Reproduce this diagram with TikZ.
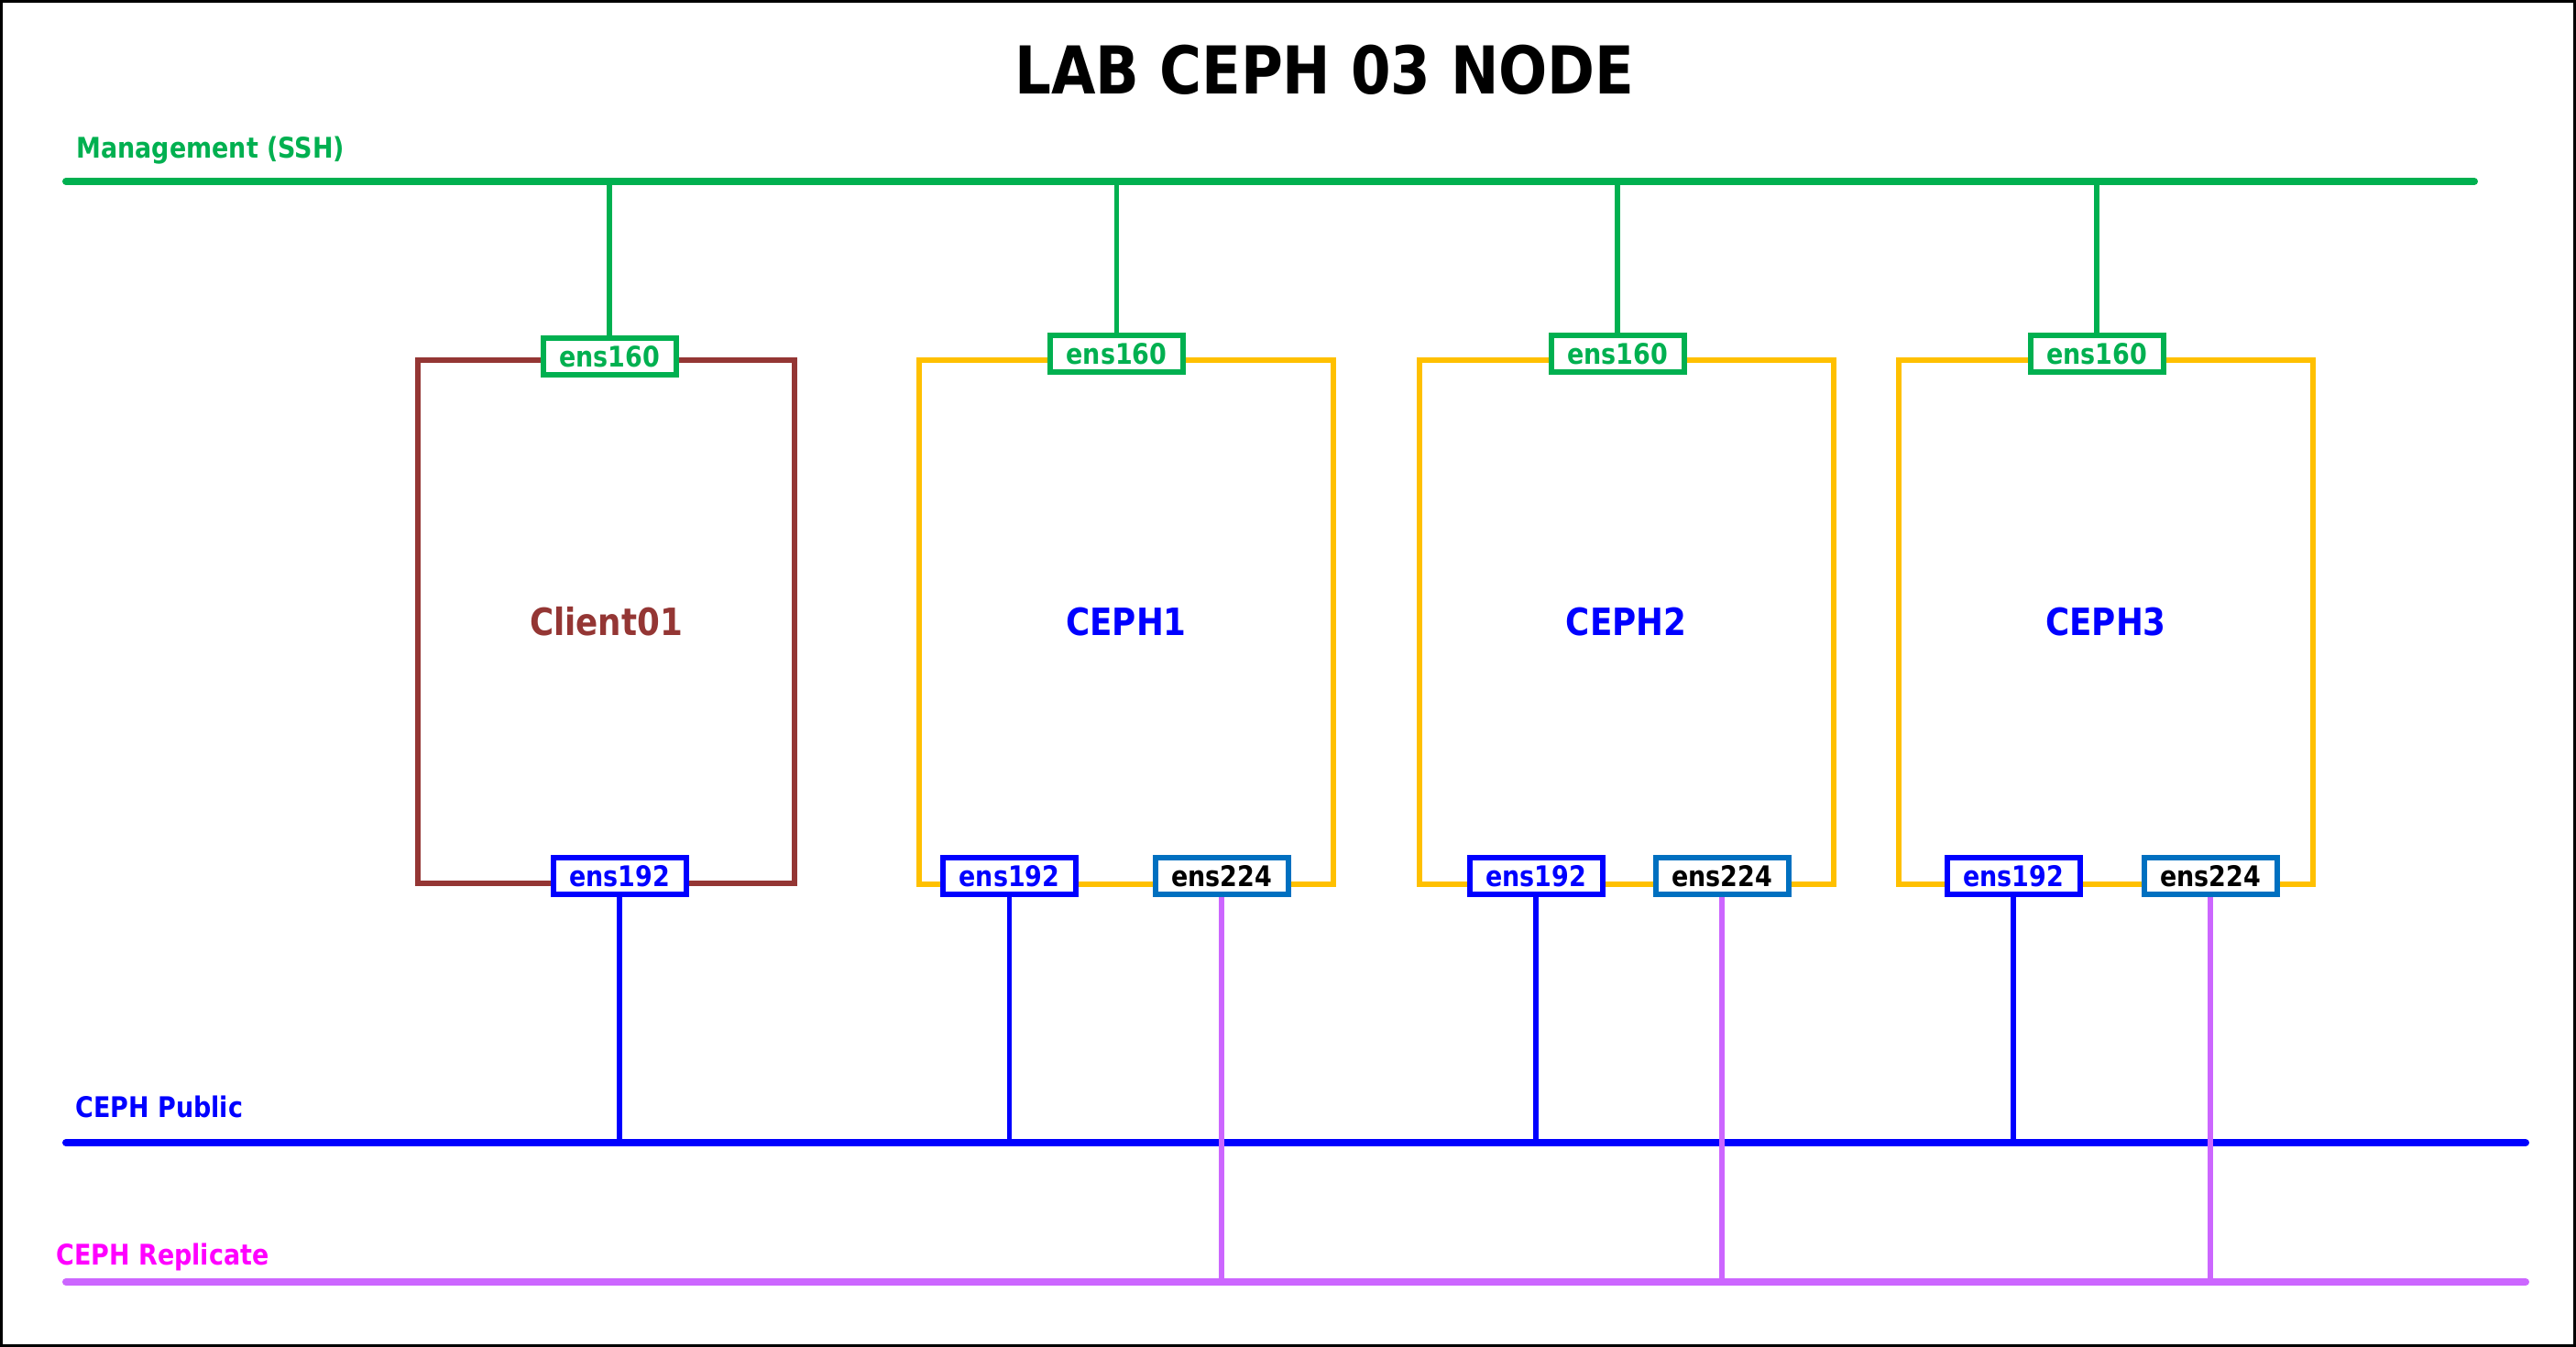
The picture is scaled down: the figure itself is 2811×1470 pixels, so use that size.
\documentclass[tikz,border=0pt]{standalone}
\usepackage{fontspec}
\setmainfont{DejaVu Sans}[FakeStretch=0.87]
\definecolor{mgmtgreen}{HTML}{00B050}
\definecolor{hostbrown}{HTML}{943634}
\definecolor{hostgold}{HTML}{FFC000}
\definecolor{pubblue}{HTML}{0000FF}
\definecolor{replpurple}{HTML}{CC66FF}
\definecolor{replmagenta}{HTML}{FF00FF}
\definecolor{nicblue}{HTML}{0070C0}
\tikzset{bus/.style={line width=4pt,line cap=round},
  drop/.style={line width=2.6pt},
  host/.style={draw,line width=3pt,minimum height=285.5pt,font=\bfseries\fontsize{20.5}{24}\selectfont},
  nic/.style={draw,fill=white,line width=3pt,minimum width=72.5pt,minimum height=20pt,inner sep=0pt,font=\bfseries\fontsize{15.5}{18}\selectfont},
  netlabel/.style={anchor=base west,inner sep=0pt,font=\bfseries\fontsize{15.5}{18}\selectfont}}

\begin{document}
\begin{tikzpicture}[x=0.5pt,y=-0.5pt]
\useasboundingbox (0,0) rectangle (2811,1470);
\draw[line width=1.5pt] (1.5,1.5) rectangle (2809.5,1468.5);
\node[anchor=base,inner sep=0pt,font=\bfseries\fontsize{36}{43}\selectfont] (title) at (1445.5,103) {LAB CEPH 03 NODE};

% networks
\coordinate (mgmtW) at (72,198);
\coordinate (mgmtE) at (2700,198);
\coordinate (pubW) at (72,1247);
\coordinate (pubE) at (2756,1247);
\coordinate (replW) at (72,1399);
\coordinate (replE) at (2756,1399);
\draw[bus,mgmtgreen] (mgmtW)--(mgmtE);
\draw[bus,pubblue] (pubW)--(pubE);
\draw[bus,replpurple] (replW)--(replE);
\node[netlabel,mgmtgreen] (mgmtlbl) at (83,173) {Management (SSH)};
\node[netlabel,pubblue] (publbl) at (82,1219) {CEPH Public};
\node[netlabel,replmagenta] (repllbl) at (61,1380) {CEPH Replicate};

% hosts
\node[host,hostbrown,minimum width=205.5pt] (client) at (661.5,678.5) {Client01};
\node[host,draw=hostgold,text=pubblue,minimum width=226pt] (ceph1) at (1229,679) {CEPH1};
\node[host,draw=hostgold,text=pubblue,minimum width=226pt] (ceph2) at (1774.5,679) {CEPH2};
\node[host,draw=hostgold,text=pubblue,minimum width=226pt] (ceph3) at (2298,679) {CEPH3};

% interfaces
\node[nic,draw=mgmtgreen,text=mgmtgreen] (mgmt0) at (665,389) {ens160};
\node[nic,draw=pubblue,text=pubblue] (pub0) at (676,956) {ens192};
\node[nic,draw=mgmtgreen,text=mgmtgreen] (mgmt1) at (1218.5,386) {ens160};
\node[nic,draw=pubblue,text=pubblue] (pub1) at (1101.5,956) {ens192};
\node[nic,draw=nicblue,text=black] (repl1) at (1333,956) {ens224};
\node[nic,draw=mgmtgreen,text=mgmtgreen] (mgmt2) at (1765,386) {ens160};
\node[nic,draw=pubblue,text=pubblue] (pub2) at (1676,956) {ens192};
\node[nic,draw=nicblue,text=black] (repl2) at (1879,956) {ens224};
\node[nic,draw=mgmtgreen,text=mgmtgreen] (mgmt3) at (2288,386) {ens160};
\node[nic,draw=pubblue,text=pubblue] (pub3) at (2197,956) {ens192};
\node[nic,draw=nicblue,text=black] (repl3) at (2412,956) {ens224};

% links
\draw[drop,mgmtgreen] (mgmt0.north)--(mgmt0.north |- mgmtW);
\draw[drop,mgmtgreen] (mgmt1.north)--(mgmt1.north |- mgmtW);
\draw[drop,mgmtgreen] (mgmt2.north)--(mgmt2.north |- mgmtW);
\draw[drop,mgmtgreen] (mgmt3.north)--(mgmt3.north |- mgmtW);
\draw[drop,pubblue] (pub0.south)--(pub0.south |- pubW);
\draw[drop,pubblue] (pub1.south)--(pub1.south |- pubW);
\draw[drop,pubblue] (pub2.south)--(pub2.south |- pubW);
\draw[drop,pubblue] (pub3.south)--(pub3.south |- pubW);
\draw[drop,replpurple] (repl1.south)--(repl1.south |- replW);
\draw[drop,replpurple] (repl2.south)--(repl2.south |- replW);
\draw[drop,replpurple] (repl3.south)--(repl3.south |- replW);
\end{tikzpicture}
\end{document}
